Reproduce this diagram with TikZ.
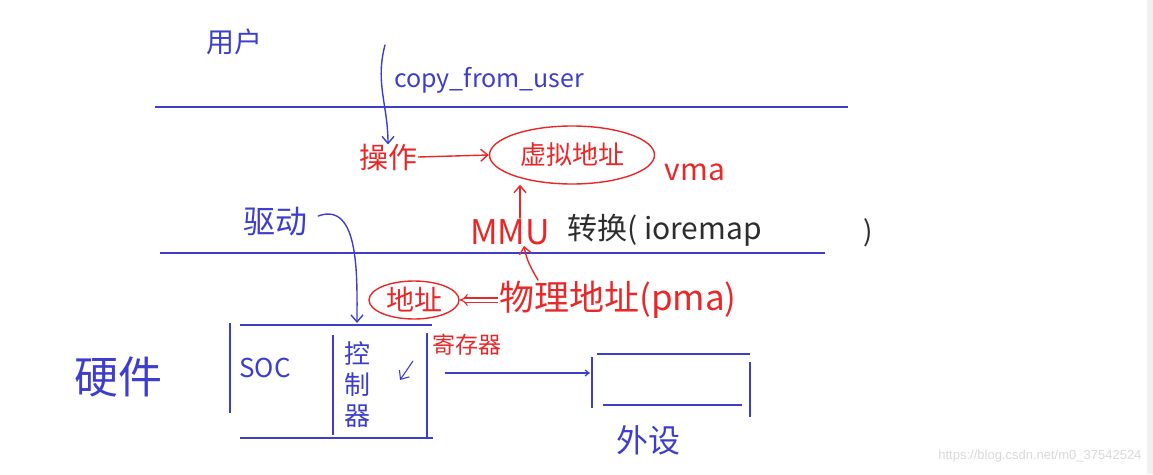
\documentclass[tikz,border=0pt]{standalone}
\usepackage{fontspec}
\setmainfont{Noto Sans CJK SC}
\newfontfamily\markfont{Liberation Sans}
\usetikzlibrary{shapes.geometric,arrows.meta}

\definecolor{penblue}{RGB}{62,62,205}
\definecolor{penred}{RGB}{232,40,40}
\definecolor{penblack}{RGB}{45,45,45}

\begin{document}
\begin{tikzpicture}[
    x=1pt, y=-1pt,
    bluetxt/.style={
        text=penblue,
        inner sep=1pt
    },
    redtxt/.style={
        text=penred,
        inner sep=1pt
    },
    blacktxt/.style={
        text=penblack,
        inner sep=1pt
    },
    layer/.style={
        draw=penblue,
        line width=1.4pt
    },
    pen/.style={
        line width=1.4pt,
        line cap=round
    },
    barb/.style={
        -{Straight Barb[length=7pt,width=12pt]}
    }
]
    \useasboundingbox (0,0) rectangle (1153,474);

    % ==========================================
    % LAYERS
    % ==========================================

    % User space
    \node[bluetxt, font=\fontsize{28}{30}\selectfont] (User) at (234,42) {用户};
    \node[bluetxt, anchor=west, font=\fontsize{25}{27}\selectfont] (CopyTxt) at (393,80) {copy\_from\_user};
    \coordinate (CopyStart) at (385,45);

    % Boundary lines
    \coordinate (LineOneA) at (155,107);
    \coordinate (LineOneB) at (848,107);
    \coordinate (LineTwoA) at (160,253);
    \coordinate (LineTwoB) at (825,253);
    \draw[layer] (LineOneA) -- (LineOneB);
    \draw[layer] (LineTwoA) -- (LineTwoB);

    % Kernel space
    \node[redtxt, font=\fontsize{29}{31}\selectfont] (Op) at (388,157) {操作};
    \node[redtxt, draw=penred, pen, ellipse, minimum width=165, minimum height=58, font=\fontsize{26}{28}\selectfont] (Virt) at (572,155) {虚拟地址};
    \node[redtxt, font=\fontsize{30}{32}\selectfont] (Vma) at (695,172) {vma};
    \node[redtxt, font=\fontsize{34}{36}\selectfont] (Mmu) at (510,232) {MMU};
    \node[blacktxt, anchor=west, font=\fontsize{30}{32}\selectfont] (Conv) at (566,230) {转换( ioremap};
    \node[blacktxt, font=\fontsize{28}{30}\selectfont] (CloseBr) at (868,233) {)};
    \node[bluetxt, font=\fontsize{32}{34}\selectfont] (Drv) at (275,222) {驱动};

    % Physical side
    \node[redtxt, draw=penred, pen, ellipse, minimum width=90, minimum height=38, inner sep=0pt, font=\fontsize{28}{30}\selectfont] (Addr) at (414,300) {地址};
    \node[redtxt, anchor=west, font=\fontsize{35}{37}\selectfont] (Phys) at (498,300) {物理地址(pma)};

    % Hardware
    \node[bluetxt, font=\fontsize{44}{46}\selectfont] (Hw) at (118,377) {硬件};
    \node[bluetxt, font=\fontsize{26}{28}\selectfont] (Soc) at (265,368) {SOC};
    \node[bluetxt, align=center, font=\fontsize{26}{31}\selectfont] (Ctrl) at (357,385) {控\\制\\器};
    \node[redtxt, font=\fontsize{23}{25}\selectfont] (Reg) at (467,345) {寄存器};
    \node[bluetxt, font=\fontsize{32}{34}\selectfont] (Dev) at (648,440) {外设};

    % SOC box
    \draw[layer] (240,325) -- (432,325);
    \draw[layer] (230,323) -- (230,413);
    \draw[layer] (240,438) -- (433,438);
    \draw[layer] (427,333) -- (427,437);
    \draw[layer] (333,335) -- (333,435);

    % Peripheral box
    \draw[layer] (597,354) -- (750,354);
    \draw[layer] (592,357) -- (592,408);
    \draw[layer] (603,405) -- (742,405);
    \draw[layer] (750,362) -- (750,417);

    \coordinate (DrvEnd) at (357,323);
    \coordinate (RegTip) at (400,380);
    \coordinate (RegTail) at (413,361);
    \coordinate (SocOut) at (445,373);
    \coordinate (DevIn) at (590,373);

    % ==========================================
    % CONNECTIONS
    % ==========================================

    % copy_from_user -> operation
    \draw[pen, barb, penblue] (CopyStart) to[out=255, in=90] ([yshift=-2pt]Op.north);

    % operation -> virtual address
    \draw[pen, barb, penred] (Op.east) -- (Virt.west);

    % MMU -> virtual address
    \draw[pen, barb, penred] ([xshift=10pt]Mmu.north) -- ([xshift=10pt]Mmu.north |- Virt.south);

    % physical address -> MMU
    \draw[pen, barb, penred] ([xshift=40pt]Phys.north west) to[out=120, in=-80] ([xshift=14pt]Mmu.south);

    % physical address => address
    \draw[penred, line width=1.1pt, double, double distance=3pt, -Implies] (Phys.west) -- (Addr.east);

    % driver -> controller
    \draw[pen, barb, penblue] ([xshift=10pt, yshift=6pt]Drv.east) to[out=20, in=90] (DrvEnd);

    % register mark
    \draw[pen, barb, penblue, line width=1.1pt] (RegTail) -- (RegTip);

    % SOC -> peripheral
    \draw[penblue, line width=1.2pt, -{Straight Barb[length=4pt,width=6pt]}] (SocOut) -- (DevIn);

    % page bits
    \fill[gray!12] (1147,0) rectangle (1153,474);
    \node[text=gray!30, font=\markfont\fontsize{13}{15}\selectfont, anchor=east] (Mark) at (1145,456) {https://blog.csdn.net/m0\_37542524};

\end{tikzpicture}
\end{document}
